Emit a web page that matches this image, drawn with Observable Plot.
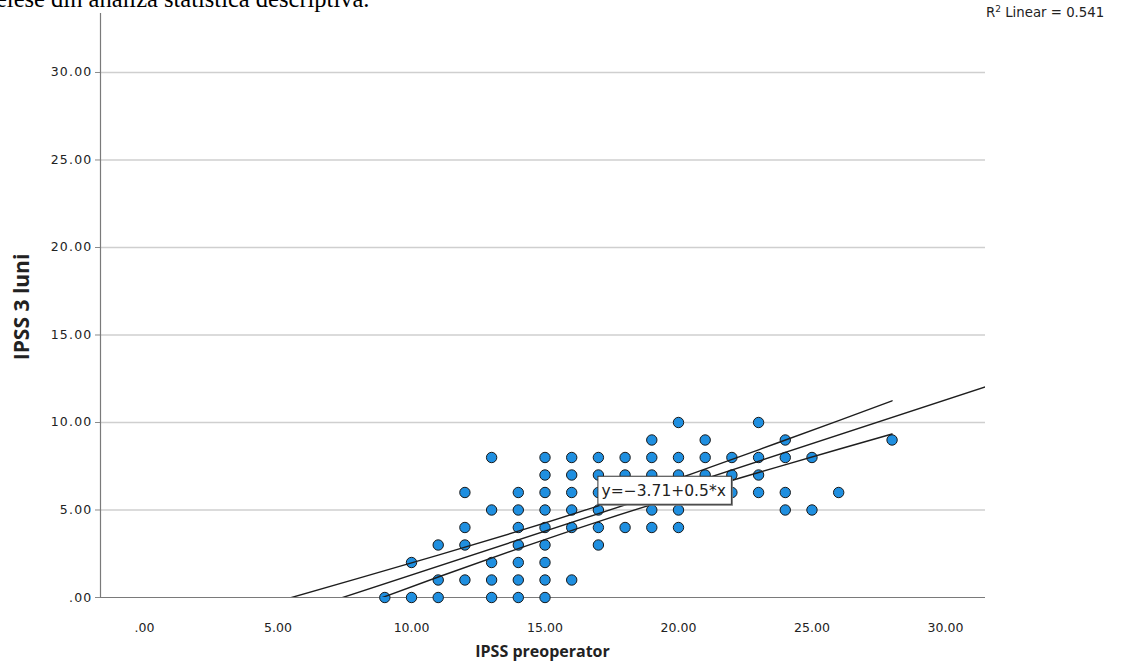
<!DOCTYPE html>
<html>
<head>
<meta charset="utf-8">
<script src="https://cdn.jsdelivr.net/npm/d3@7"></script>
<script src="https://cdn.jsdelivr.net/npm/@observablehq/plot@0.6"></script>
<style>
  body { margin: 0; background: #fff; }
  #wrap { position: relative; width: 1123px; height: 662px; overflow: hidden; background: #fff; }
  #wrap svg { position: absolute; left: 0; top: 0; }
  #lead { position: absolute; left: -4px; top: -15px; font-family: "Liberation Serif", serif; font-size: 24.5px; white-space: nowrap; color: #000; }
  #r2 { position: absolute; left: 986px; top: 4px; font-family: "DejaVu Sans", sans-serif; font-size: 13.3px; color: #222; white-space: nowrap; }
  #r2 sup { font-size: 9px; }
  #xtitle { position: absolute; left: 100px; width: 885px; top: 640px; text-align: center; font-family: "Open Sans", sans-serif; font-weight: bold; font-size: 16px; color: #222; }
  #ytitle { position: absolute; left: 21px; top: 307px; transform: translate(-50%, -50%) rotate(-90deg); font-family: "Open Sans", sans-serif; font-weight: bold; font-size: 21px; color: #222; white-space: nowrap; }
</style>
</head>
<body>
<div id="wrap">
  <div id="lead">elese din analiza statistica descriptiva.</div>
  <div id="r2">R<sup>2</sup> Linear = 0.541</div>
  <div id="xtitle">IPSS preoperator</div>
  <div id="ytitle">IPSS 3 luni</div>
</div>
<script>
// IPSS score before surgery (x) and three months after (y), one entry per plotted case
const ipssPreop = [
  9,
  10, 10,
  11, 11, 11,
  12, 12, 12, 12,
  13, 13, 13, 13, 13,
  14, 14, 14, 14, 14, 14, 14,
  15, 15, 15, 15, 15, 15, 15, 15, 15,
  16, 16, 16, 16, 16, 16,
  17, 17, 17, 17, 17, 17,
  18, 18, 18,
  19, 19, 19, 19, 19,
  20, 20, 20, 20, 20,
  21, 21, 21,
  22, 22, 22,
  23, 23, 23, 23,
  24, 24, 24, 24,
  25, 25,
  26,
  28
];
const ipss3Luni = [
  0,
  0, 2,
  0, 1, 3,
  1, 3, 4, 6,
  0, 1, 2, 5, 8,
  0, 1, 2, 3, 4, 5, 6,
  0, 1, 2, 3, 4, 5, 6, 7, 8,
  1, 4, 5, 6, 7, 8,
  3, 4, 5, 6, 7, 8,
  4, 7, 8,
  4, 5, 7, 8, 9,
  4, 5, 7, 8, 10,
  7, 8, 9,
  6, 7, 8,
  6, 7, 8, 10,
  5, 6, 8, 9,
  5, 8,
  6,
  9
];

// Linear fit reported with the chart
const intercept = -3.71;
const slope = 0.5;

// 95% confidence limits of the mean prediction
const ciX     = [5,     8,     11,   14,   17,   20,   23,   26,    28];
const ciUpper = [-0.22, 1.09,  2.42, 3.79, 5.24, 6.80, 8.44, 10.11, 11.24];
const ciLower = [-2.20, -0.51, 1.17, 2.79, 4.34, 5.78, 7.14, 8.47,  9.34];

// Axes
const xDomain = [-1.65, 31.5];
const yDomain = [0, 33.37];
const xTicks = [0, 5, 10, 15, 20, 25, 30];
const yTicks = [0, 5, 10, 15, 20, 25, 30];

// Equation label box (data units)
const eqLabel = { x1: 17, x2: 22, y1: 5.3, y2: 6.9 };

const fmt = d => d === 0 ? ".00" : d3.format(".2f")(d);

const points = ipssPreop.map((x, i) => ({ x, y: ipss3Luni[i] }));
const fitLine = xDomain.map(x => ({ x, y: intercept + slope * x }));
const upperLine = ciX.map((x, i) => ({ x, y: ciUpper[i] }));
const lowerLine = ciX.map((x, i) => ({ x, y: ciLower[i] }));
const eqText = `y=${intercept < 0 ? "\u2212" : ""}${Math.abs(intercept)}+${slope}*x`;

const chart = Plot.plot({
  width: 1123,
  height: 662,
  marginLeft: 100,
  marginRight: 138,
  marginTop: 13,
  marginBottom: 65,
  style: { fontFamily: "DejaVu Sans, sans-serif", fontSize: "12.5px", color: "#222", background: "transparent" },
  x: { domain: xDomain, ticks: xTicks, tickFormat: fmt, tickSize: 0, tickPadding: 26, label: null },
  y: { domain: yDomain, ticks: yTicks, tickFormat: fmt, tickSize: 5, tickPadding: 3, label: null },
  marks: [
    Plot.ruleY(yTicks.filter(d => d > 0), { stroke: "#cfcfcf", strokeWidth: 1.3 }),
    Plot.ruleX([xDomain[0]], { stroke: "#7a7a7a", strokeWidth: 1.2 }),
    Plot.ruleY([0], { stroke: "#7a7a7a", strokeWidth: 1.2 }),
    Plot.dot(points, { x: "x", y: "y", r: 5.2, fill: "#1f8fe0", stroke: "#1a1a1a", strokeWidth: 1 }),
    Plot.line(fitLine, { x: "x", y: "y", stroke: "#1e1e1e", strokeWidth: 1.4, clip: true }),
    Plot.line(upperLine, { x: "x", y: "y", stroke: "#1e1e1e", strokeWidth: 1.4, curve: "natural", clip: true }),
    Plot.line(lowerLine, { x: "x", y: "y", stroke: "#1e1e1e", strokeWidth: 1.4, curve: "natural", clip: true }),
    Plot.rect([eqLabel], { x1: "x1", x2: "x2", y1: "y1", y2: "y2", fill: "#777", dx: 1.5, dy: 1.5 }),
    Plot.rect([eqLabel], { x1: "x1", x2: "x2", y1: "y1", y2: "y2", fill: "white", stroke: "#333", strokeWidth: 1 }),
    Plot.text([eqLabel], { x: d => d.x1 + 0.12, y: d => (d.y1 + d.y2) / 2, text: () => eqText, textAnchor: "start", fontSize: 15.5, fill: "#222" })
  ]
});

// vertical axis: gray tick marks, wider-set labels
const sel = d3.select(chart);
sel.selectAll('[aria-label="y-axis tick"] path, [aria-label="y-axis"] .tick line').attr("stroke", "#8a8a8a");
sel.selectAll('[aria-label="y-axis tick label"] text, [aria-label="y-axis"] .tick text')
  .style("letter-spacing", "1.2px").style("font-size", "12.5px");

document.getElementById("wrap").prepend(chart);
</script>
</body>
</html>
